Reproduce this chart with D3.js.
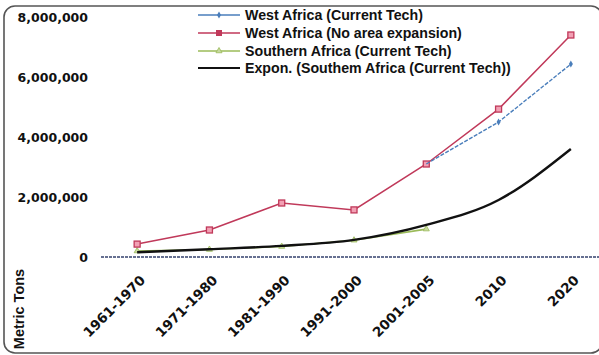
<!DOCTYPE html>
<html>
<head>
<meta charset="utf-8">
<script src="https://cdn.jsdelivr.net/npm/d3@7"></script>
<style>
  html, body { margin: 0; padding: 0; background: #fff; }
  svg { display: block; }
</style>
</head>
<body>
<svg id="chart" width="599" height="355"></svg>
<script>
// Categories on the x axis
const categories = ["1961-1970", "1971-1980", "1981-1990", "1991-2000", "2001-2005", "2010", "2020"];

// Production, metric tons
const westCurrent   = [430000, 900000, 1800000, 1570000, 3100000, 4500000, 6430000];
const westNoExpand  = [430000, 900000, 1800000, 1570000, 3100000, 4930000, 7400000];
const southCurrent  = [200000, 250000, 350000, 560000, 930000, null, null];
// Exponential trend of Southern Africa, read at each category
const southTrend    = [160000, 260000, 370000, 570000, 1070000, 1900000, 3600000];

const yTicks = [0, 2000000, 4000000, 6000000, 8000000];

const legendLabels = [
  "West Africa (Current Tech)",
  "West Africa (No area expansion)",
  "Southern Africa (Current Tech)",
  "Expon. (Southem Africa (Current Tech))"
];

const svg = d3.select("#chart");

// outer rounded frame (runs past the right and bottom edges)
svg.append("rect")
  .attr("x", 4).attr("y", 6)
  .attr("width", 598).attr("height", 347)
  .attr("rx", 11).attr("ry", 11)
  .attr("fill", "#fff")
  .attr("stroke", "#555").attr("stroke-width", 1.6);

const x = d3.scalePoint().domain(categories).range([101, 607]).padding(0.5);
const y = d3.scaleLinear().domain([0, 8000000]).range([257, 17]);

const fmt = d3.format(",");

// y tick labels
svg.append("g").selectAll("text")
  .data(yTicks).join("text")
  .attr("x", 88)
  .attr("y", d => y(d))
  .attr("dy", "0.36em")
  .attr("text-anchor", "end")
  .attr("font-family", "DejaVu Sans")
  .attr("font-weight", "bold")
  .attr("font-size", 12.5)
  .attr("fill", "#111")
  .text(d => fmt(d));

// horizontal axis line at zero
svg.append("line")
  .attr("x1", 101).attr("x2", 607)
  .attr("y1", y(0)).attr("y2", y(0))
  .attr("stroke", "#34426e").attr("stroke-width", 1.4)
  .attr("stroke-dasharray", "3,1");

// x tick labels, rotated
svg.append("g").selectAll("text")
  .data(categories).join("text")
  .attr("transform", d => `translate(${x(d) + 9},${281}) rotate(-45)`)
  .attr("text-anchor", "end")
  .attr("font-family", "DejaVu Sans")
  .attr("font-weight", "bold")
  .attr("font-size", 13.5)
  .attr("fill", "#111")
  .text(d => d);

// y axis title
svg.append("text")
  .attr("transform", "translate(24,309) rotate(-90)")
  .attr("text-anchor", "middle")
  .attr("font-family", "Liberation Sans")
  .attr("font-weight", "bold")
  .attr("font-size", 14.5)
  .attr("fill", "#111")
  .text("Metric Tons");

const line = d3.line()
  .defined(d => d[1] != null)
  .x(d => x(d[0]))
  .y(d => y(d[1]));

const pts = vals => categories.map((c, i) => [c, vals[i]]);

const colors = { blue: "#4a7ebb", red: "#c0395a", green: "#9bbb59", black: "#111" };

// Southern Africa (Current Tech)
svg.append("path")
  .attr("d", line(pts(southCurrent)))
  .attr("fill", "none").attr("stroke", colors.green).attr("stroke-width", 1.6);
const tri = d3.symbol().type(d3.symbolTriangle).size(16);
svg.append("g").selectAll("path")
  .data(pts(southCurrent).filter(d => d[1] != null)).join("path")
  .attr("transform", d => `translate(${x(d[0])},${y(d[1])})`)
  .attr("d", tri())
  .attr("fill", "#c8d9a0").attr("stroke", colors.green).attr("stroke-width", 0.8);

// exponential trend
svg.append("path")
  .attr("d", line.curve(d3.curveMonotoneX)(pts(southTrend)))
  .attr("fill", "none").attr("stroke", colors.black).attr("stroke-width", 2.4);
line.curve(d3.curveLinear);

// West Africa (No area expansion)
svg.append("path")
  .attr("d", line(pts(westNoExpand)))
  .attr("fill", "none").attr("stroke", colors.red).attr("stroke-width", 1.5);
svg.append("g").selectAll("rect")
  .data(pts(westNoExpand)).join("rect")
  .attr("x", d => x(d[0]) - 3).attr("y", d => y(d[1]) - 3)
  .attr("width", 6).attr("height", 6)
  .attr("fill", "#f2a0b4").attr("stroke", colors.red).attr("stroke-width", 1.3);

// West Africa (Current Tech)
svg.append("path")
  .attr("d", line(pts(westCurrent).slice(4)))
  .attr("fill", "none").attr("stroke", colors.blue).attr("stroke-width", 1.4)
  .attr("stroke-dasharray", "4,1.5");
const dia = d3.symbol().type(d3.symbolDiamond).size(14);
svg.append("g").selectAll("path")
  .data(pts(westCurrent).slice(5)).join("path")
  .attr("transform", d => `translate(${x(d[0])},${y(d[1])})`)
  .attr("d", dia())
  .attr("fill", colors.blue);

// legend
const legendRows = [15, 33, 51, 68];
const lg = svg.append("g");
legendLabels.forEach((label, i) => {
  const ly = legendRows[i];
  const col = [colors.blue, colors.red, colors.green, colors.black][i];
  lg.append("line")
    .attr("x1", 198).attr("x2", 240).attr("y1", ly).attr("y2", ly)
    .attr("stroke", col).attr("stroke-width", i === 3 ? 2.2 : 1.4);
  if (i === 0) {
    lg.append("path").attr("transform", `translate(219,${ly})`).attr("d", dia()).attr("fill", col);
  } else if (i === 1) {
    lg.append("rect").attr("x", 216.5).attr("y", ly - 2.5).attr("width", 5).attr("height", 5)
      .attr("fill", col).attr("stroke", col);
  } else if (i === 2) {
    lg.append("path").attr("transform", `translate(219,${ly})`).attr("d", tri())
      .attr("fill", "#c8d9a0").attr("stroke", col).attr("stroke-width", 0.8);
  }
  lg.append("text")
    .attr("x", 245).attr("y", ly)
    .attr("dy", "0.35em")
    .attr("font-family", "Liberation Sans")
    .attr("font-weight", "bold")
    .attr("font-size", 14.2)
    .attr("fill", "#111")
    .text(label);
});
</script>
</body>
</html>
